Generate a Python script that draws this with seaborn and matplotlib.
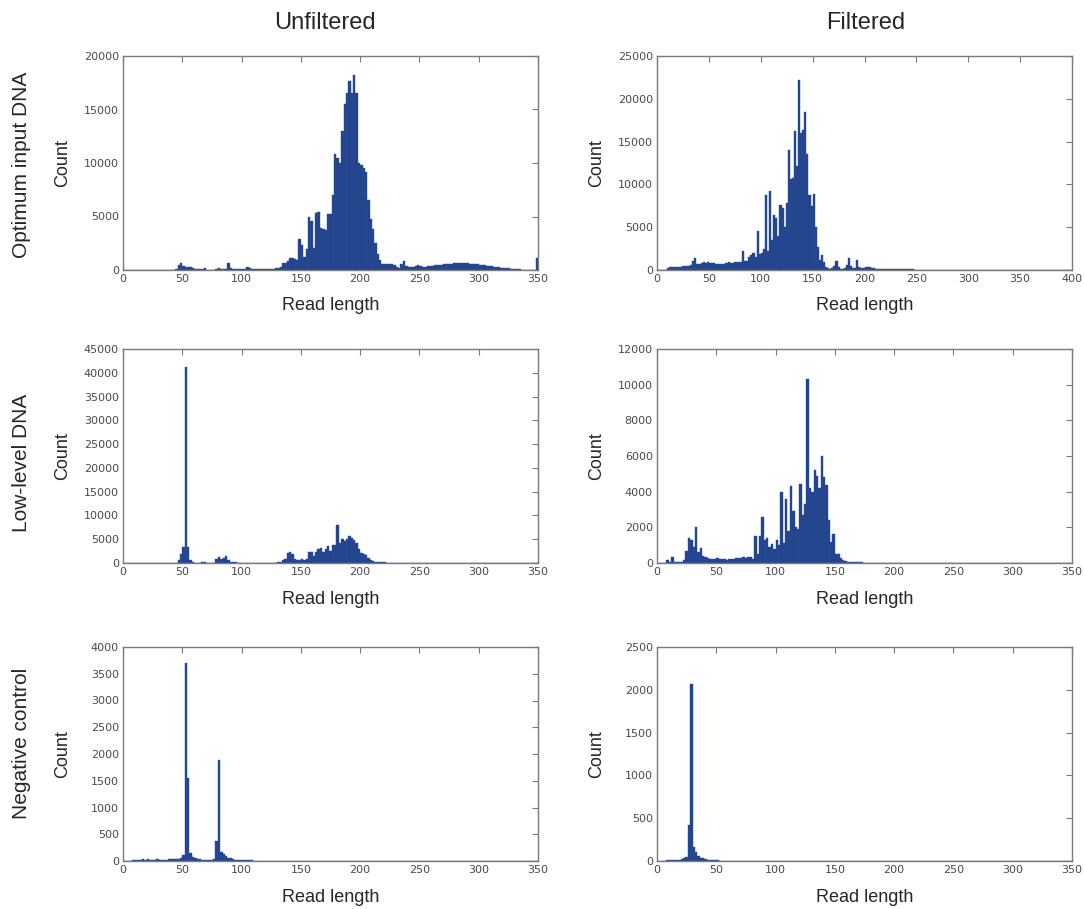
import numpy as np
import pandas as pd
import matplotlib
matplotlib.use("Agg")
import matplotlib.pyplot as plt
import seaborn as sns

sns.set_style("white")
plt.rcParams['font.family'] = ['Liberation Sans', 'DejaVu Sans']

# ---------------- data: counts per 2-bp read-length bin ----------------
BIN = 2
col_titles = ["Unfiltered", "Filtered"]
row_titles = ["Optimum input DNA", "Low-level DNA", "Negative control"]

# Optimum input DNA, unfiltered (first bin starts at 40 bp)
opt_unf_start = 40
opt_unf_counts = [
    0, 0, 100, 500, 700, 350, 300, 250, 300, 150,
    80, 50, 50, 60, 150, 40, 40, 40, 40, 60,
    200, 60, 50, 60, 700, 150, 60, 60, 60, 60,
    60, 80, 300, 200, 100, 80, 80, 80, 80, 90,
    90, 100, 100, 120, 150, 200, 300, 700, 700, 800,
    1100, 1100, 1000, 900, 2900, 2300, 1200, 2000, 5000, 4600,
    2100, 5300, 5400, 3900, 3800, 3700, 5200, 5200, 7000, 10800,
    10500, 10000, 13000, 15500, 16500, 17700, 16500, 18200, 16500, 10000,
    9800, 9500, 9200, 6500, 4800, 3800, 2500, 1500, 900, 600,
    550, 550, 600, 600, 500, 300, 200, 600, 800, 400,
    250, 250, 300, 400, 450, 350, 300, 300, 350, 400,
    400, 450, 450, 500, 500, 550, 550, 600, 600, 650,
    650, 700, 700, 700, 650, 650, 600, 600, 550, 550,
    500, 500, 450, 400, 400, 350, 300, 300, 250, 200,
    200, 150, 150, 100, 100, 80, 60, 50, 40, 30,
    20, 20, 10, 10, 1100,
]

# Optimum input DNA, filtered (first bin starts at 10 bp)
opt_fil_start = 10
opt_fil_counts = [
    250, 300, 350, 350, 350, 400, 400, 450, 450, 450,
    500, 600, 1100, 1400, 700, 700, 800, 900, 800, 900,
    850, 800, 800, 750, 700, 700, 700, 750, 850, 900,
    850, 850, 900, 900, 900, 950, 2200, 1000, 1100, 1500,
    1700, 1950, 1500, 4500, 1900, 2000, 2500, 8800, 2200, 9200,
    3500, 6400, 6100, 4000, 7600, 7300, 5000, 7800, 14000, 10600,
    10800, 16200, 12200, 22200, 16000, 16300, 18500, 13600, 8800, 7500,
    8900, 5000, 2700, 1200, 1800, 900, 300, 200, 150, 200,
    500, 1100, 300, 150, 150, 200, 600, 1350, 500, 250,
    200, 1150, 400, 250, 250, 300, 350, 300, 250, 200,
    150, 120, 100, 100, 100, 90, 80, 80, 80, 80,
    70, 70, 70, 70, 60, 60, 60, 60, 60, 50,
    50, 50, 40, 40, 40, 40, 40, 30, 30, 30,
    30, 20, 20, 20, 20, 20, 20, 15, 15, 15,
    10, 10, 10, 10, 10, 10, 10, 10, 10, 10,
]

# Low-level DNA, unfiltered (first bin starts at 44 bp)
low_unf_start = 44
low_unf_counts = [
    100, 600, 1800, 3300, 41300, 3300, 600, 150, 100, 100,
    80, 150, 150, 60, 50, 50, 100, 900, 1300, 900,
    1000, 1400, 600, 300, 150, 150, 100, 80, 80, 80,
    60, 60, 60, 60, 60, 60, 80, 60, 60, 80,
    80, 100, 100, 150, 300, 700, 900, 2000, 2400, 1800,
    800, 700, 600, 900, 700, 800, 2400, 2300, 1500, 2300,
    3000, 3200, 2400, 3000, 3500, 2600, 3800, 3700, 7900, 4300,
    5000, 4600, 5000, 5600, 5200, 4800, 4300, 3000, 2000, 1800,
    1700, 1000, 600, 400, 300, 250, 200, 200, 150, 100,
    80, 80, 60, 40, 30, 30, 20, 20,
]

# Low-level DNA, filtered (first bin starts at 8 bp)
low_fil_start = 8
low_fil_counts = [
    150, 60, 350, 80, 80, 80, 80, 150, 700, 1400,
    1300, 900, 2000, 600, 850, 400, 350, 300, 250, 250,
    250, 260, 250, 230, 200, 180, 200, 220, 240, 260,
    280, 300, 320, 280, 330, 350, 250, 1500, 500, 1500,
    2600, 1300, 1380, 900, 1050, 800, 1300, 1000, 4000, 1100,
    3600, 1800, 4300, 2900, 2000, 1900, 4450, 2700, 3300, 10300,
    4200, 4000, 5200, 4900, 4200, 6000, 4800, 4400, 2400, 1200,
    1650, 500, 480, 300, 150, 100, 60, 50, 40, 40,
    30, 30, 30, 20, 20, 20, 20, 20, 20, 15,
    15, 10, 10, 10, 10, 10, 10, 10, 10,
]

# Negative control, unfiltered (first bin starts at 8 bp)
neg_unf_start = 8
neg_unf_counts = [
    20, 20, 20, 20, 30, 20, 30, 20, 20, 20,
    30, 20, 20, 20, 20, 30, 30, 40, 30, 40,
    60, 120, 3700, 1550, 150, 80, 50, 40, 30, 20,
    20, 20, 20, 20, 30, 380, 1880, 160, 130, 100,
    60, 50, 30, 20, 20, 20, 20, 15, 15, 10,
    10,
]

# Negative control, filtered (first bin starts at 8 bp)
neg_fil_start = 8
neg_fil_counts = [
    10, 10, 10, 10, 15, 10, 20, 30, 50, 420,
    2070, 160, 110, 60, 40, 30, 20, 15, 10, 10,
    10, 10, 5, 5, 5,
]

x_limits = [350, 400, 350, 350, 350, 350]
y_limits = [20000, 25000, 45000, 12000, 4000, 2500]
y_steps = [5000, 5000, 5000, 2000, 500, 500]

panels = [
    (opt_unf_start, opt_unf_counts),
    (opt_fil_start, opt_fil_counts),
    (low_unf_start, low_unf_counts),
    (low_fil_start, low_fil_counts),
    (neg_unf_start, neg_unf_counts),
    (neg_fil_start, neg_fil_counts),
]

# ---------------- layout / style ----------------
W, H = 1084, 909
BAR = "#23448c"
EDGE = "#2b4f98"
FRAME = "#7a7a7a"
TICKLAB = "#4a4a4a"

col_left = [123, 657]
row_top = [56, 349, 647]
ax_w, ax_h = 415, 214

fig = plt.figure(figsize=(W / 100, H / 100), dpi=100)

for i, (start, counts) in enumerate(panels):
    r, c = divmod(i, 2)
    left = col_left[c] / W
    bottom = 1 - (row_top[r] + ax_h) / H
    ax = fig.add_axes([left, bottom, ax_w / W, ax_h / H])
    df = pd.DataFrame({
        "length": start + BIN * np.arange(len(counts)) + BIN / 2,
        "count": np.asarray(counts, dtype=float),
    })
    sns.histplot(data=df, x="length", weights="count",
                 binwidth=BIN, binrange=(0, x_limits[i]), ax=ax,
                 color=BAR, edgecolor=EDGE, linewidth=0.3, alpha=1.0)
    ax.set_xlim(0, x_limits[i])
    ax.set_ylim(0, y_limits[i])
    ax.set_xticks(np.arange(0, x_limits[i] + 1, 50))
    ax.set_yticks(np.arange(0, y_limits[i] + 1, y_steps[i]))
    ax.tick_params(direction="in", top=True, right=True, length=4, width=0.8,
                   color=FRAME, labelsize=8, labelcolor=TICKLAB, pad=3)
    for lab in ax.get_xticklabels() + ax.get_yticklabels():
        lab.set_family("DejaVu Sans")
    for sp in ax.spines.values():
        sp.set_color(FRAME)
        sp.set_linewidth(1.0)
        sp.set_visible(True)
    ax.set_xlabel("Read length", fontsize=13)
    ax.set_ylabel("Count", fontsize=13)
    ax.xaxis.set_label_coords(0.5, -36 / ax_h)
    ax.xaxis.label.set_verticalalignment("center")
    ax.yaxis.set_label_coords(-60 / ax_w, 0.5)
    ax.yaxis.label.set_verticalalignment("center")
    ax.grid(False)

# column titles
fig.text(325 / W, 1 - 23 / H, col_titles[0], ha="center", va="center", fontsize=17)
fig.text(866 / W, 1 - 23 / H, col_titles[1], ha="center", va="center", fontsize=17)

# row titles
row_centers = [165, 463, 743]
for name, yc in zip(row_titles, row_centers):
    fig.text(22 / W, 1 - yc / H, name, ha="center", va="center",
             rotation=90, fontsize=15)

fig.savefig("out.png", dpi=100)
